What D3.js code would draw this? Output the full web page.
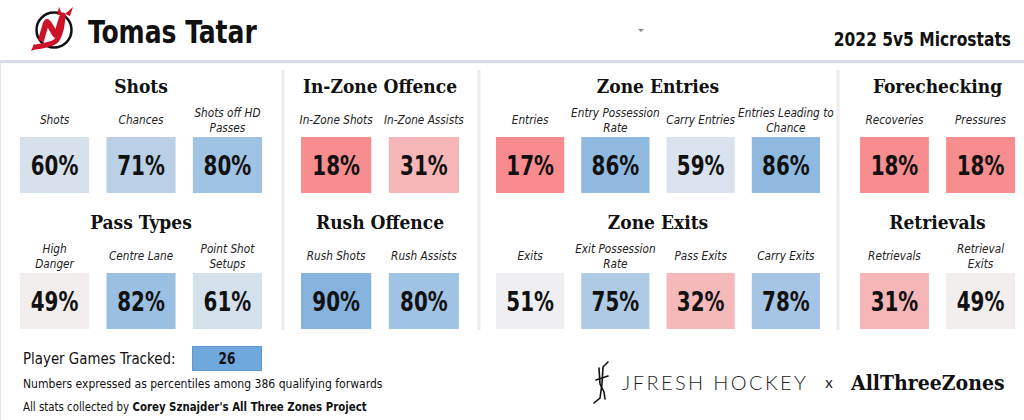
<!DOCTYPE html>
<html>
<head>
<meta charset="utf-8">
<script src="https://cdn.jsdelivr.net/npm/d3@7"></script>
<style>
  body { margin: 0; background: #fff; }
  svg { display: block; }
</style>
</head>
<body>
<div id="card"></div>
<script>
// data
var player_name = 'Tomas Tatar'
var subtitle = '2022 5v5 Microstats'
var games_tracked = 26
var qualifying = 386

var sections_top = ['Shots', 'In-Zone Offence', 'Zone Entries', 'Forechecking']
var sections_bottom = ['Pass Types', 'Rush Offence', 'Zone Exits', 'Retrievals']

var labels_top = [
    ['Shots', 'Chances', 'Shots off HD\nPasses'],
    ['In-Zone Shots', 'In-Zone Assists'],
    ['Entries', 'Entry Possession\nRate', 'Carry Entries', 'Entries Leading to\nChance'],
    ['Recoveries', 'Pressures']
]
var values_top = [
    [60, 71, 80],
    [18, 31],
    [17, 86, 59, 86],
    [18, 18]
]
var labels_bottom = [
    ['High\nDanger', 'Centre Lane', 'Point Shot\nSetups'],
    ['Rush Shots', 'Rush Assists'],
    ['Exits', 'Exit Possession\nRate', 'Pass Exits', 'Carry Exits'],
    ['Retrievals', 'Retrieval\nExits']
]
var values_bottom = [
    [49, 82, 61],
    [90, 80],
    [51, 75, 32, 78],
    [31, 49]
]

// layout
var width = 1024, height = 420
var section_extent = [[20, 262], [301, 459], [496, 820], [860, 1015]]
var dividers = [283, 479, 838]
var row_y = [137, 273]
var box_h = 56

var narrow = '"DejaVu Sans Condensed", "DejaVu Sans", sans-serif'
var slab = '"DejaVu Serif Condensed", "DejaVu Serif", serif'

var color = d3.scaleLinear()
    .domain([0, 50, 100])
    .range(['#fc5559', '#f2f1f1', '#6aa3d9'])
    .interpolate(d3.interpolateRgb)

var svg = d3.select('#card')
    .append('svg')
    .attr('width', width)
    .attr('height', height)

svg.append('rect').attr('width', width).attr('height', height).attr('fill', '#fff')

// condensed text: squeeze DejaVu horizontally to get closer to the narrow original
var ntext = (parent, x, y, size, sx) => parent.append('text')
    .attr('transform', `translate(${x},${y}) scale(${sx},1)`)
    .attr('font-family', narrow)
    .attr('font-size', size)
    .attr('fill', '#111')

// header
svg.append('rect')
    .attr('x', 0).attr('y', 60)
    .attr('width', width).attr('height', 3)
    .attr('fill', '#d7dee7')
svg.append('rect')
    .attr('x', 0).attr('y', 63)
    .attr('width', 1).attr('height', height - 63)
    .attr('fill', '#e3e3e3')

// devils logo
var logo = svg.append('g')
logo.append('circle')
    .attr('cx', 54).attr('cy', 30).attr('r', 17.5)
    .attr('fill', '#fff').attr('stroke', '#111').attr('stroke-width', 2.5)
var line = d3.line().curve(d3.curveCatmullRom)
logo.append('path')
    .attr('d', line([[41, 41], [44, 30], [47, 22], [52, 29], [56, 35], [60, 24], [63, 15]]))
    .attr('fill', 'none').attr('stroke', '#ce1126').attr('stroke-width', 6)
    .attr('stroke-linejoin', 'round')
logo.append('path')
    .attr('d', line([[63, 15], [61, 30], [56, 41], [46, 45], [36, 47]]))
    .attr('fill', 'none').attr('stroke', '#ce1126').attr('stroke-width', 5)
    .attr('stroke-linecap', 'round')
logo.append('path')
    .attr('d', 'M57,15 L59,7 L62,14 Z M65,14 L73,7 L70,16 Z M31,51 L34,44 L39,48 Z')
    .attr('fill', '#ce1126')

ntext(svg, 88, 43, 32, 0.87)
    .attr('font-weight', 'bold')
    .text(player_name)

ntext(svg, 1011, 46, 20, 0.86)
    .attr('text-anchor', 'end')
    .attr('font-weight', 'bold')
    .text(subtitle)

svg.append('path')
    .attr('d', 'M638,29 L644,29 L641,32 Z')
    .attr('fill', '#888')

// dividers
svg.selectAll('.divider')
    .data(dividers)
    .enter()
    .append('rect')
    .attr('x', d => d - 1.5)
    .attr('y', 70)
    .attr('width', 3)
    .attr('height', 260)
    .attr('fill', '#ececec')

// stat rows
var draw_row = (titles, labels, values, y0) => {
    titles.forEach((title, s) => {
        var x = d3.scaleBand()
            .domain(d3.range(values[s].length))
            .range(section_extent[s])
            .paddingInner(0.2)
        var g = svg.append('g')

        g.append('text')
            .attr('x', (section_extent[s][0] + section_extent[s][1]) / 2)
            .attr('y', y0 - 44)
            .attr('text-anchor', 'middle')
            .attr('font-family', slab).attr('font-weight', 'bold')
            .attr('font-size', 19).attr('fill', '#111')
            .text(title)

        var cell = g.selectAll('.cell')
            .data(values[s])
            .enter()
            .append('g')
            .attr('transform', (d, i) => `translate(${x(i)},${y0})`)

        cell.append('rect')
            .attr('width', x.bandwidth())
            .attr('height', box_h)
            .attr('fill', d => color(d))

        cell.each(function (d, i) {
            var c = d3.select(this)
            ntext(c, x.bandwidth() / 2, 38, 27, 0.82)
                .attr('text-anchor', 'middle')
                .attr('font-weight', 'bold')
                .text(d + '%')

            var lines = labels[s][i].split('\n')
            lines.forEach((l, k) => {
                var base = lines.length == 1 ? -13 : -20 + k * 15
                ntext(c, x.bandwidth() / 2, base, 13, 0.9)
                    .attr('text-anchor', 'middle')
                    .attr('font-style', 'italic')
                    .attr('fill', '#222')
                    .text(l)
            })
        })
    })
}

draw_row(sections_top, labels_top, values_top, row_y[0])
draw_row(sections_bottom, labels_bottom, values_bottom, row_y[1])

// footer
ntext(svg, 23, 364, 16, 0.93).text('Player Games Tracked:')
svg.append('rect')
    .attr('x', 192.5).attr('y', 346.5)
    .attr('width', 69).attr('height', 24)
    .attr('fill', '#6fa8dc').attr('stroke', '#5b9bd5')
ntext(svg, 227, 364, 15, 0.9)
    .attr('text-anchor', 'middle')
    .attr('font-weight', 'bold')
    .text(games_tracked)
ntext(svg, 23, 388, 12.5, 0.965)
    .text(`Numbers expressed as percentiles among ${qualifying} qualifying forwards`)
var credit = ntext(svg, 23, 411, 12.5, 0.91)
credit.append('tspan').text('All stats collected by ')
credit.append('tspan').attr('font-weight', 'bold').text("Corey Sznajder's All Three Zones Project")

// jfresh logo
var stick = svg.append('g')
    .attr('fill', 'none').attr('stroke', '#111').attr('stroke-width', 1.6)
    .attr('stroke-linecap', 'round')
stick.append('path').attr('d', 'M608,362 L603,367 L602,384 L600,398 L594,403')
stick.append('path').attr('d', 'M599,368 L600,384 L604,392 L605,399')
stick.append('path').attr('d', 'M596,380 L608,376')
svg.append('text')
    .attr('x', 622).attr('y', 390)
    .attr('font-family', 'Lato, "Open Sans", sans-serif').attr('font-weight', 300)
    .attr('font-size', 20).attr('letter-spacing', 2.4).attr('fill', '#222')
    .text('JFRESH HOCKEY')
svg.append('text')
    .attr('x', 829).attr('y', 388)
    .attr('text-anchor', 'middle')
    .attr('font-family', 'Lato, sans-serif').attr('font-size', 15).attr('fill', '#222')
    .text('x')
svg.append('text')
    .attr('x', 851).attr('y', 390)
    .attr('font-family', slab).attr('font-weight', 'bold')
    .attr('font-size', 21).attr('fill', '#111')
    .text('AllThreeZones')
</script>
</body>
</html>
